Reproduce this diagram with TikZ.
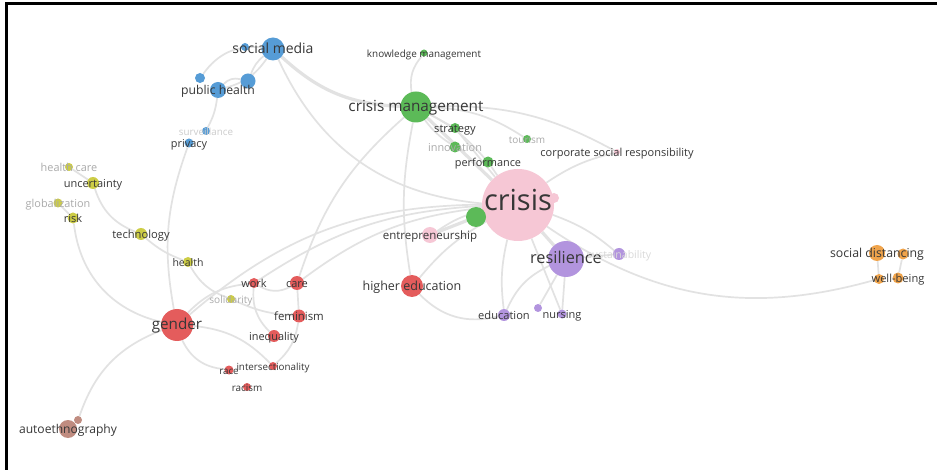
\documentclass[tikz,border=0pt]{standalone}
\usepackage{fontspec}
\setmainfont{Open Sans}
\usetikzlibrary{backgrounds}
\definecolor{cblue}{RGB}{86,156,214}
\definecolor{cyellow}{RGB}{205,205,70}
\definecolor{cred}{RGB}{228,92,92}
\definecolor{cgreen}{RGB}{92,186,88}
\definecolor{cpink}{RGB}{246,199,213}
\definecolor{cpurple}{RGB}{178,148,222}
\definecolor{corange}{RGB}{240,164,76}
\definecolor{cbrown}{RGB}{192,140,128}
\definecolor{txt}{RGB}{55,55,55}
\definecolor{faint}{RGB}{170,170,170}
\definecolor{edgec}{RGB}{226,226,226}
\begin{document}
\begin{tikzpicture}[x=1pt,y=1pt,
  dot/.style={circle,inner sep=0pt,minimum size=#1,draw=none},
  lbl/.style={anchor=mid,inner sep=0pt,yshift=-1.5pt,text=txt,font=\fontsize{#1}{#1}\selectfont},
  flbl/.style={lbl=#1,text=faint},
  link/.style={draw=edgec,line width=1.7pt},
  thick link/.style={draw=edgec,line width=3.2pt}]
\useasboundingbox (0,0) rectangle (937,-470);
% ---- circles ----
\node[dot=23,fill=cblue] (sm) at (273,-49) {};
\node[dot=8,fill=cblue] (b1) at (245,-47) {};
\node[dot=15,fill=cblue] (b2) at (248,-81) {};
\node[dot=16,fill=cblue] (ph) at (218,-90) {};
\node[dot=10,fill=cblue] (b3) at (200,-78) {};
\node[dot=8,fill=cblue] (surv) at (206,-131) {};
\node[dot=9,fill=cblue] (priv) at (189,-143) {};
\node[dot=8,fill=cyellow] (hc) at (69,-167) {};
\node[dot=12,fill=cyellow] (unc) at (93,-183) {};
\node[dot=9,fill=cyellow] (glob) at (58,-203) {};
\node[dot=11,fill=cyellow] (risk) at (73,-218) {};
\node[dot=12,fill=cyellow] (tech) at (141,-234) {};
\node[dot=10,fill=cyellow] (hlth) at (188,-262) {};
\node[dot=8,fill=cyellow] (sol) at (231,-299) {};
\node[dot=10,fill=cred] (work) at (254,-283) {};
\node[dot=14,fill=cred] (care) at (297,-283) {};
\node[dot=13,fill=cred] (fem) at (299,-316) {};
\node[dot=32,fill=cred] (gender) at (177,-325) {};
\node[dot=12,fill=cred] (ineq) at (274,-336) {};
\node[dot=8,fill=cred] (inter) at (273,-366) {};
\node[dot=9,fill=cred] (race) at (229,-370) {};
\node[dot=8,fill=cred] (racism) at (247,-387) {};
\node[dot=22,fill=cred] (he) at (412,-286) {};
\node[dot=18,fill=cbrown] (auto) at (68,-429) {};
\node[dot=8,fill=cbrown] (auto2) at (78,-420) {};
\node[dot=7,fill=cgreen] (km) at (424,-53) {};
\node[dot=31,fill=cgreen] (cm) at (416,-107) {};
\node[dot=10,fill=cgreen] (strat) at (455,-128) {};
\node[dot=11,fill=cgreen] (innov) at (455,-147) {};
\node[dot=8,fill=cgreen] (tour) at (527,-139) {};
\node[dot=11,fill=cgreen] (perf) at (488,-162) {};
\node[dot=72,fill=cpink] (crisis) at (518,-205) {};
\node[dot=20,fill=cgreen] (gbig) at (476,-217) {};
\node[dot=10,fill=cpink] (pk2) at (554,-198) {};
\node[dot=6,fill=cpink] (crs) at (617,-152) {};
\node[dot=16,fill=cpink] (entre) at (430,-235) {};
\node[dot=36,fill=cpurple] (res) at (566,-259) {};
\node[dot=12,fill=cpurple] (sust) at (619,-254) {};
\node[dot=12,fill=cpurple] (edu) at (504,-315) {};
\node[dot=8,fill=cpurple] (pur2) at (538,-308) {};
\node[dot=9,fill=cpurple] (nurs) at (562,-314) {};
\node[dot=16,fill=corange] (sd) at (877,-253) {};
\node[dot=11,fill=corange] (sd2) at (903,-254) {};
\node[dot=10,fill=corange] (wb) at (879,-279) {};
\node[dot=11,fill=corange] (wb2) at (898,-278) {};
% ---- links ----
\begin{scope}[on background layer]
\fill[white] (0,0) rectangle (937,-470);
\draw[link] (sm) to[bend right=30] (crisis);
\draw[thick link] (sm) to[bend right=20] (cm);
\draw[link] (sm) to[bend left=20] (ph);
\draw[link] (sm) to[bend right=15] (b2);
\draw[link] (b3) to[bend left=30] (sm);
\draw[link] (ph) to[bend left=30] (b2);
\draw[link] (ph) to[bend left=10] (surv);
\draw[link] (priv) to[bend right=15] (gender);
\draw[link] (hc) -- (unc);
\draw[link] (unc) to[bend right=25] (tech);
\draw[link] (glob) -- (risk);
\draw[link] (risk) to[bend right=35] (gender);
\draw[link] (tech) to[bend right=10] (hlth);
\draw[link] (hlth) to[bend right=20] (sol);
\draw[link] (gender) to[bend left=20] (work);
\draw[link] (work) to[bend right=30] (care);
\draw[link] (gender) to[bend left=20] (crisis);
\draw[link] (gender) to[bend left=20] (inter);
\draw[link] (gender) to[bend right=30] (race);
\draw[link] (work) to[bend right=25] (ineq);
\draw[link] (care) -- (fem);
\draw[link] (fem) to[bend left=20] (inter);
\draw[link] (cm) to[bend right=15] (care);
\draw[link] (sol) to[bend right=10] (fem);
\draw[link] (care) to[bend left=15] (crisis);
\draw[link] (he) to[bend left=10] (crisis);
\draw[link] (he) to[bend right=30] (edu);
\draw[link] (cm) to[bend right=10] (he);
\draw[link] (km) to[bend right=25] (cm);
\draw[link] (cm) -- (strat);
\draw[link] (cm) to[bend right=10] (innov);
\draw[link] (cm) to[bend left=10] (perf);
\draw[thick link] (cm) -- (crisis);
\draw[link] (cm) to[bend left=15] (tour);
\draw[link] (cm) to[bend left=15] (crs);
\draw[thick link] (gbig) -- (entre);
\draw[link] (strat) -- (crisis);
\draw[link] (perf) -- (crisis);
\draw[link] (crisis) to[bend right=10] (entre);
\draw[thick link] (crisis) -- (res);
\draw[link] (crisis) to[bend left=10] (sust);
\draw[link] (crisis) to[bend right=25] (wb);
\draw[link] (crisis) to[bend left=10] (crs);
\draw[link] (crisis) to[bend right=10] (edu);
\draw[link] (crisis) -- (nurs);
\draw[link] (res) to[bend right=20] (edu);
\draw[link] (res) -- (pur2);
\draw[link] (res) -- (nurs);
\draw[link] (res) -- (sust);
\draw[link] (sd) -- (wb);
\draw[link] (sd2) -- (wb2);
\draw[link] (auto2) to[bend left=25] (gender);
\draw[link] (work) to[bend left=15] (crisis);
\end{scope}
% ---- labels ----
\node[lbl=14] (t-sm) at (sm) {social media};
\node[lbl=12.2] (t-ph) at (ph) {public health};
\node[lbl=9.8,text=black!20] (t-surv) at (surv) {surveillance};
\node[lbl=10.9] (t-priv) at (priv) {privacy};
\node[flbl=10.9] (t-hc) at (hc) {health care};
\node[lbl=11] (t-unc) at (unc) {uncertainty};
\node[flbl=10.9] (t-glob) at (glob) {globalization};
\node[lbl=11] (t-risk) at (risk) {risk};
\node[lbl=11.2] (t-tech) at (tech) {technology};
\node[lbl=10.5] (t-hlth) at (hlth) {health};
\node[flbl=10.1] (t-sol) at (sol) {solidarity};
\node[lbl=11] (t-work) at (work) {work};
\node[lbl=11] (t-care) at (care) {care};
\node[lbl=11.4] (t-fem) at (fem) {feminism};
\node[lbl=15.2] (t-gender) at (gender) {gender};
\node[lbl=10.9] (t-ineq) at (ineq) {inequality};
\node[lbl=9.8] (t-inter) at (inter) {intersectionality};
\node[lbl=9.8] (t-race) at (race) {race};
\node[lbl=9.9] (t-racism) at (racism) {racism};
\node[lbl=12.5] (t-he) at (he) {higher education};
\node[lbl=12.1] (t-auto) at (auto) {autoethnography};
\node[lbl=9.9] (t-km) at (km) {knowledge management};
\node[lbl=15.3] (t-cm) at (cm) {crisis management};
\node[lbl=11.1] (t-strat) at (strat) {strategy};
\node[flbl=10.9] (t-innov) at (innov) {innovation};
\node[flbl=10] (t-tour) at (tour) {tourism};
\node[lbl=10.9] (t-perf) at (perf) {performance};
\node[lbl=11] (t-crs) at (crs) {corporate social responsibility};
\node[lbl=29,yshift=-1pt] (t-crisis) at (crisis) {crisis};
\node[lbl=11.5] (t-entre) at (entre) {entrepreneurship};
\node[lbl=16.3] (t-res) at (res) {resilience};
\node[lbl=10.5,text=black!15] (t-sust) at (sust) {sustainability};
\node[lbl=11.1] (t-edu) at (edu) {education};
\node[lbl=11] (t-nurs) at (nurs) {nursing};
\node[lbl=12.3] (t-sd) at (sd) {social distancing};
\node[lbl=11.1] (t-wb) at (wb2) {well-being};
% ---- frame ----
\draw[line width=2.6pt] (6.3,-470) -- (6.3,-3.3) -- (937,-3.3);
\end{tikzpicture}
\end{document}
